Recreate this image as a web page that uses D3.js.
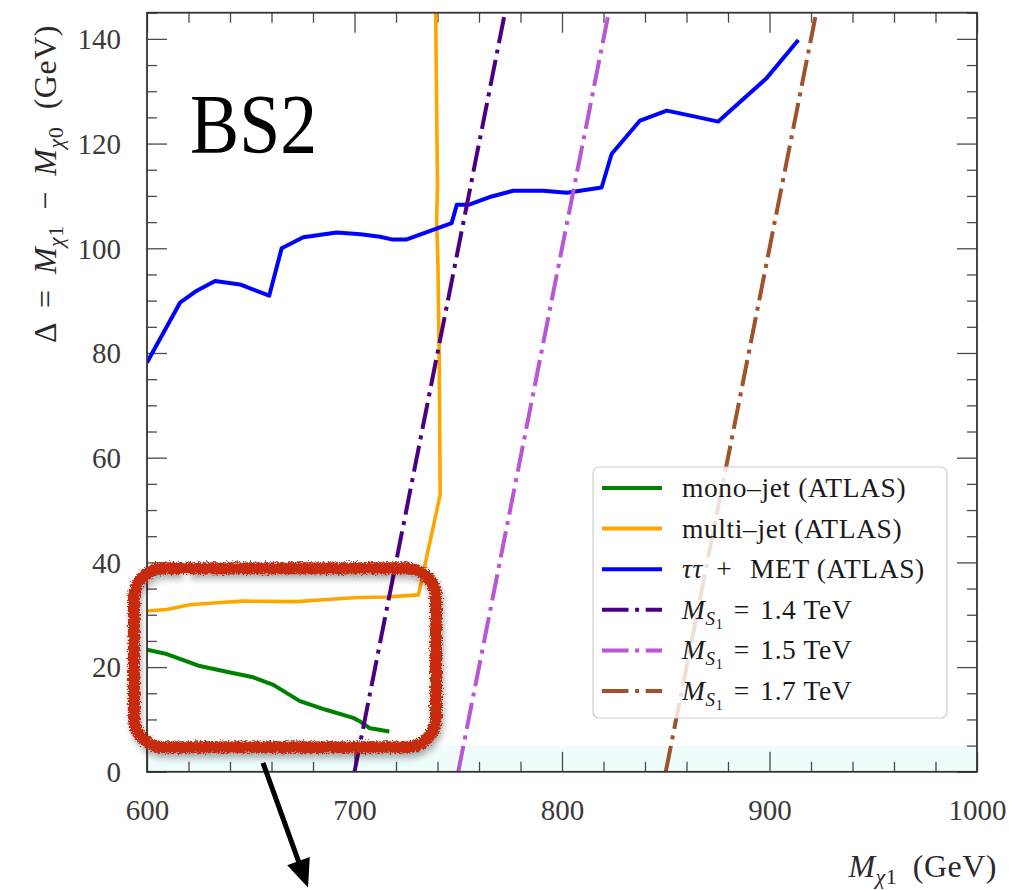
<!DOCTYPE html>
<html>
<head>
<meta charset="utf-8">
<script src="https://cdn.jsdelivr.net/npm/d3@7"></script>
<style>
  html, body { margin: 0; padding: 0; background: #fff; }
  svg { display: block; font-family: "Liberation Serif", "DejaVu Serif", serif; }
</style>
</head>
<body>
<svg id="chart" width="1009" height="890"></svg>
<script>
// ---- exclusion contours (M_chi1 in GeV, Delta in GeV) ----
const monojetMass  = [600, 609.5, 625.5, 638.4, 651.2, 660.9, 673.7, 686.6, 699.4, 702.7, 707.5, 716.8];
const monojetDelta = [23.3, 22.5, 20.2, 19.1, 18.05, 16.6, 13.5, 11.8, 10.3, 9.6, 8.3, 7.7];

const multijetMass  = [600, 609.5, 620.7, 633.6, 646.4, 672.1, 686.6, 701.8, 715.5, 723.5, 730.8, 741.3, 740.8, 740.2, 739.6, 740.0, 739.5, 739.0];
const multijetDelta = [30.7, 31.0, 31.9, 32.3, 32.6, 32.5, 32.9, 33.3, 33.4, 33.6, 33.8, 52.9, 80, 97, 105.5, 112, 130, 150];

const tautauMass  = [600, 609.5, 615.9, 624, 632.8, 644.8, 658.9, 664.9, 675.3, 691.4, 703, 712.3, 717.9, 725.2, 746.8, 749.3, 754.9, 766.1, 776.5, 791, 802.3, 819.1, 823.9, 837.6, 850.5, 862.5, 875.3, 898.6, 913.9];
const tautauDelta = [78.2, 85.0, 89.6, 91.9, 93.75, 93.1, 90.95, 100, 102.1, 103.0, 102.7, 102.2, 101.7, 101.7, 104.8, 108.3, 108.3, 109.9, 111.0, 111.0, 110.6, 111.6, 118.0, 124.4, 126.3, 125.3, 124.2, 132.5, 139.8];

// ---- benchmark lines for fixed M_S1 (endpoints) ----
const ms14Mass = [700, 772.5], ms14Delta = [0, 145];
const ms15Mass = [750, 822.5], ms15Delta = [0, 145];
const ms17Mass = [850, 922.5], ms17Delta = [0, 145];

// ---- shaded compressed region ----
const bandDelta = [0, 5];

// ---- axes ----
const xDomain = [600, 1000];
const yDomain = [0, 145];
const xMajorTicks = [600, 700, 800, 900, 1000];
const yMajorTicks = [0, 20, 40, 60, 80, 100, 120, 140];
const xMinorTicks = [620, 640, 660, 680, 720, 740, 760, 780, 820, 840, 860, 880, 920, 940, 960, 980];
const yMinorTicks = [5, 10, 15, 25, 30, 35, 45, 50, 55, 65, 70, 75, 85, 90, 95, 105, 110, 115, 125, 130, 135, 145];

// ---- annotation (data units) ----
const boxMass  = [593.7, 739.3];
const boxDelta = [4.7, 38.9];
const boxGapMass = [616.4, 619.8];
const arrowMass  = [655.9, 677.6];
const arrowDelta = [1.7, -22.1];

// ---- layout ----
const plot = { left: 147, right: 977, top: 12.7, bottom: 771.8 };

const svg = d3.select('#chart');
const x = d3.scaleLinear().domain(xDomain).range([plot.left, plot.right]);
const y = d3.scaleLinear().domain(yDomain).range([plot.bottom, plot.top]);

const defs = svg.append('defs');
defs.append('clipPath').attr('id', 'plotClip')
  .append('rect')
  .attr('x', plot.left).attr('y', plot.top)
  .attr('width', plot.right - plot.left).attr('height', plot.bottom - plot.top);

// rough brush effect for the hand-drawn box
const rough = defs.append('filter').attr('id', 'rough')
  .attr('x', '-10%').attr('y', '-10%').attr('width', '120%').attr('height', '120%');
rough.append('feTurbulence').attr('type', 'fractalNoise').attr('baseFrequency', 0.6)
  .attr('numOctaves', 2).attr('seed', 7).attr('result', 'noise');
rough.append('feDisplacementMap').attr('in', 'SourceGraphic').attr('in2', 'noise')
  .attr('scale', 7).attr('xChannelSelector', 'R').attr('yChannelSelector', 'G');

const blur = defs.append('filter').attr('id', 'shadow')
  .attr('x', '-10%').attr('y', '-10%').attr('width', '120%').attr('height', '120%');
blur.append('feGaussianBlur').attr('stdDeviation', 3);

// shaded band
svg.append('rect')
  .attr('x', plot.left).attr('width', plot.right - plot.left)
  .attr('y', y(bandDelta[1])).attr('height', y(bandDelta[0]) - y(bandDelta[1]))
  .attr('fill', '#effcfc');

// ---- ticks ----
const tickColor = '#4a4a4a';
function styleAxis(g) {
  g.attr('font-family', 'Liberation Serif, serif');
  g.select('.domain').remove();
  g.selectAll('.tick line').attr('stroke', tickColor).attr('stroke-width', 1.3);
  g.selectAll('.tick text')
    .attr('fill', '#3a3a3a')
    .attr('font-size', 29)
    .attr('font-family', 'Liberation Serif, serif');
}
const axes = svg.append('g');
const xLab = axes.append('g').attr('transform', `translate(0,${plot.bottom})`)
  .call(d3.axisBottom(x).tickValues(xMajorTicks).tickSize(-20).tickPadding(28).tickFormat(d3.format('d')))
  .call(styleAxis);
xLab.selectAll('.tick text').attr('dy', '0.71em');
axes.append('g').attr('transform', `translate(0,${plot.bottom})`)
  .call(d3.axisBottom(x).tickValues(xMinorTicks).tickSize(-10).tickFormat(''))
  .call(styleAxis);
axes.append('g').attr('transform', `translate(0,${plot.top})`)
  .call(d3.axisTop(x).tickValues(xMajorTicks).tickSize(-20).tickFormat(''))
  .call(styleAxis);
axes.append('g').attr('transform', `translate(0,${plot.top})`)
  .call(d3.axisTop(x).tickValues(xMinorTicks).tickSize(-10).tickFormat(''))
  .call(styleAxis);
const yLab = axes.append('g').attr('transform', `translate(${plot.left},0)`)
  .call(d3.axisLeft(y).tickValues(yMajorTicks).tickSize(-20).tickPadding(26).tickFormat(d3.format('d')))
  .call(styleAxis);
yLab.selectAll('.tick text').attr('dy', '0.34em');
axes.append('g').attr('transform', `translate(${plot.left},0)`)
  .call(d3.axisLeft(y).tickValues(yMinorTicks).tickSize(-10).tickFormat(''))
  .call(styleAxis);
axes.append('g').attr('transform', `translate(${plot.right},0)`)
  .call(d3.axisRight(y).tickValues(yMajorTicks).tickSize(-20).tickFormat(''))
  .call(styleAxis);
axes.append('g').attr('transform', `translate(${plot.right},0)`)
  .call(d3.axisRight(y).tickValues(yMinorTicks).tickSize(-10).tickFormat(''))
  .call(styleAxis);

// ---- curves ----
const line = d3.line().x(d => x(d[0])).y(d => y(d[1]));
const zip = (a, b) => a.map((v, i) => [v, b[i]]);

const dashDot = '26.5,6.6,4,6.6';
const series = [
  { mass: monojetMass, delta: monojetDelta, color: '#008000', width: 4, dash: null },
  { mass: multijetMass, delta: multijetDelta, color: '#ffa500', width: 3.6, dash: null },
  { mass: tautauMass, delta: tautauDelta, color: '#0000ff', width: 4, dash: null },
  { mass: ms14Mass, delta: ms14Delta, color: '#4b0082', width: 4, dash: dashDot },
  { mass: ms15Mass, delta: ms15Delta, color: '#ba55d3', width: 4, dash: dashDot },
  { mass: ms17Mass, delta: ms17Delta, color: '#a0522d', width: 4, dash: dashDot }
];

const curves = svg.append('g').attr('clip-path', 'url(#plotClip)');
series.forEach(s => {
  curves.append('path')
    .datum(zip(s.mass, s.delta))
    .attr('d', line)
    .attr('fill', 'none')
    .attr('stroke', s.color)
    .attr('stroke-width', s.width)
    .attr('stroke-linejoin', 'round')
    .attr('stroke-dasharray', s.dash);
});

// frame
svg.append('rect')
  .attr('x', plot.left).attr('y', plot.top)
  .attr('width', plot.right - plot.left).attr('height', plot.bottom - plot.top)
  .attr('fill', 'none').attr('stroke', '#333').attr('stroke-width', 1.8);

// ---- rich text helper ----
function rich(sel, parts, base) {
  let shift = 0;
  parts.forEach(p => {
    const t = sel.append('tspan').text(p.t);
    t.attr('font-size', p.size || base);
    if (p.italic) t.attr('font-style', 'italic');
    const target = p.shift || 0;
    if (target !== shift) { t.attr('dy', target - shift); shift = target; }
    if (p.dx) t.attr('dx', p.dx);
  });
  return sel;
}

// ---- legend ----
const legendLabels = [
  [{ t: 'mono–jet (ATLAS)' }],
  [{ t: 'multi–jet (ATLAS)' }],
  [{ t: 'ττ', italic: true }, { t: ' + ', dx: 6 }, { t: ' MET (ATLAS)', dx: 10 }],
  [{ t: 'M', italic: true }, { t: 'S', italic: true, size: 19, shift: 6 }, { t: '1', size: 14, shift: 10 }, { t: ' = ', shift: 0, dx: 3 }, { t: '1.4 TeV', dx: 3 }],
  [{ t: 'M', italic: true }, { t: 'S', italic: true, size: 19, shift: 6 }, { t: '1', size: 14, shift: 10 }, { t: ' = ', shift: 0, dx: 3 }, { t: '1.5 TeV', dx: 3 }],
  [{ t: 'M', italic: true }, { t: 'S', italic: true, size: 19, shift: 6 }, { t: '1', size: 14, shift: 10 }, { t: ' = ', shift: 0, dx: 3 }, { t: '1.7 TeV', dx: 3 }]
];
const leg = { x: 593, y: 467, w: 354, h: 251, row0: 21, rowStep: 40.6, lineX0: 9, lineX1: 69, textX: 89 };
const lg = svg.append('g').attr('transform', `translate(${leg.x},${leg.y})`);
lg.append('rect').attr('width', leg.w).attr('height', leg.h).attr('rx', 6)
  .attr('fill', '#fff').attr('fill-opacity', 0.82)
  .attr('stroke', '#cfcfcf').attr('stroke-width', 1.2);
series.forEach((s, i) => {
  const ry = leg.row0 + i * leg.rowStep;
  lg.append('line').attr('x1', leg.lineX0).attr('x2', leg.lineX1).attr('y1', ry).attr('y2', ry)
    .attr('stroke', s.color).attr('stroke-width', 4)
    .attr('stroke-dasharray', s.dash);
  const t = lg.append('text').attr('x', leg.textX).attr('y', ry + 9)
    .attr('fill', '#1a1a1a').attr('letter-spacing', 0.6);
  rich(t, legendLabels[i], 27.5);
});

// ---- title ----
svg.append('text').attr('x', 190).attr('y', 153)
  .attr('font-size', 84).attr('fill', '#000')
  .attr('textLength', 127).attr('lengthAdjust', 'spacingAndGlyphs')
  .text('BS2');

// ---- axis labels ----
const xl = svg.append('text').attr('x', 997).attr('y', 877).attr('text-anchor', 'end')
  .attr('fill', '#2a2a2a').attr('letter-spacing', 0.5);
rich(xl, [{ t: 'M', italic: true }, { t: 'χ', italic: true, size: 22, shift: 7 }, { t: '1', size: 22, shift: 7 }, { t: ' (GeV)', shift: 0, dx: 7 }], 32);

const yl = svg.append('text').attr('transform', 'translate(56,184) rotate(-90)')
  .attr('text-anchor', 'middle').attr('fill', '#2a2a2a').attr('letter-spacing', 0.5);
rich(yl, [
  { t: 'Δ' }, { t: ' = ', dx: 7 }, { t: 'M', italic: true, dx: 7 },
  { t: 'χ', italic: true, size: 22, shift: 7 }, { t: '1', size: 22, shift: 7 },
  { t: ' − ', shift: 0, dx: 7 }, { t: 'M', italic: true, dx: 7 },
  { t: 'χ', italic: true, size: 22, shift: 7 }, { t: '0', size: 22, shift: 7 },
  { t: ' (GeV)', shift: 0, dx: 9 }
], 32);

// ---- hand-drawn highlight box and arrow ----
const L = x(boxMass[0]), R = x(boxMass[1]), T = y(boxDelta[1]), B = y(boxDelta[0]), r = 30;
const p = d3.path();
p.moveTo(x(boxGapMass[1]), T);
p.lineTo(R - r, T); p.arcTo(R, T, R, T + r, r);
p.lineTo(R, B - r); p.arcTo(R, B, R - r, B, r);
p.lineTo(L + r, B); p.arcTo(L, B, L, B - r, r);
p.lineTo(L, T + r); p.arcTo(L, T, L + r, T, r);
p.lineTo(x(boxGapMass[0]), T);
const anno = svg.append('g');
anno.append('path').attr('d', p.toString()).attr('fill', 'none')
  .attr('stroke', '#000').attr('stroke-opacity', 0.3).attr('stroke-width', 12)
  .attr('transform', 'translate(2,5)').attr('filter', 'url(#shadow)');
anno.append('path').attr('d', p.toString()).attr('fill', 'none')
  .attr('stroke', '#c8290c').attr('stroke-width', 12).attr('stroke-linecap', 'round')
  .attr('filter', 'url(#rough)');

const ax0 = x(arrowMass[0]), ay0 = y(arrowDelta[0]), ax1 = x(arrowMass[1]), ay1 = y(arrowDelta[1]);
const len = Math.hypot(ax1 - ax0, ay1 - ay0), ux = (ax1 - ax0) / len, uy = (ay1 - ay0) / len;
const headLen = 28, headHalf = 12;
const bx = ax1 - ux * headLen, by = ay1 - uy * headLen;
anno.append('line').attr('x1', ax0).attr('y1', ay0).attr('x2', bx + ux * 2).attr('y2', by + uy * 2)
  .attr('stroke', '#000').attr('stroke-width', 5);
anno.append('path')
  .attr('d', `M${ax1},${ay1}L${bx - uy * headHalf},${by + ux * headHalf}L${bx + uy * headHalf},${by - ux * headHalf}Z`)
  .attr('fill', '#000');
</script>
</body>
</html>
